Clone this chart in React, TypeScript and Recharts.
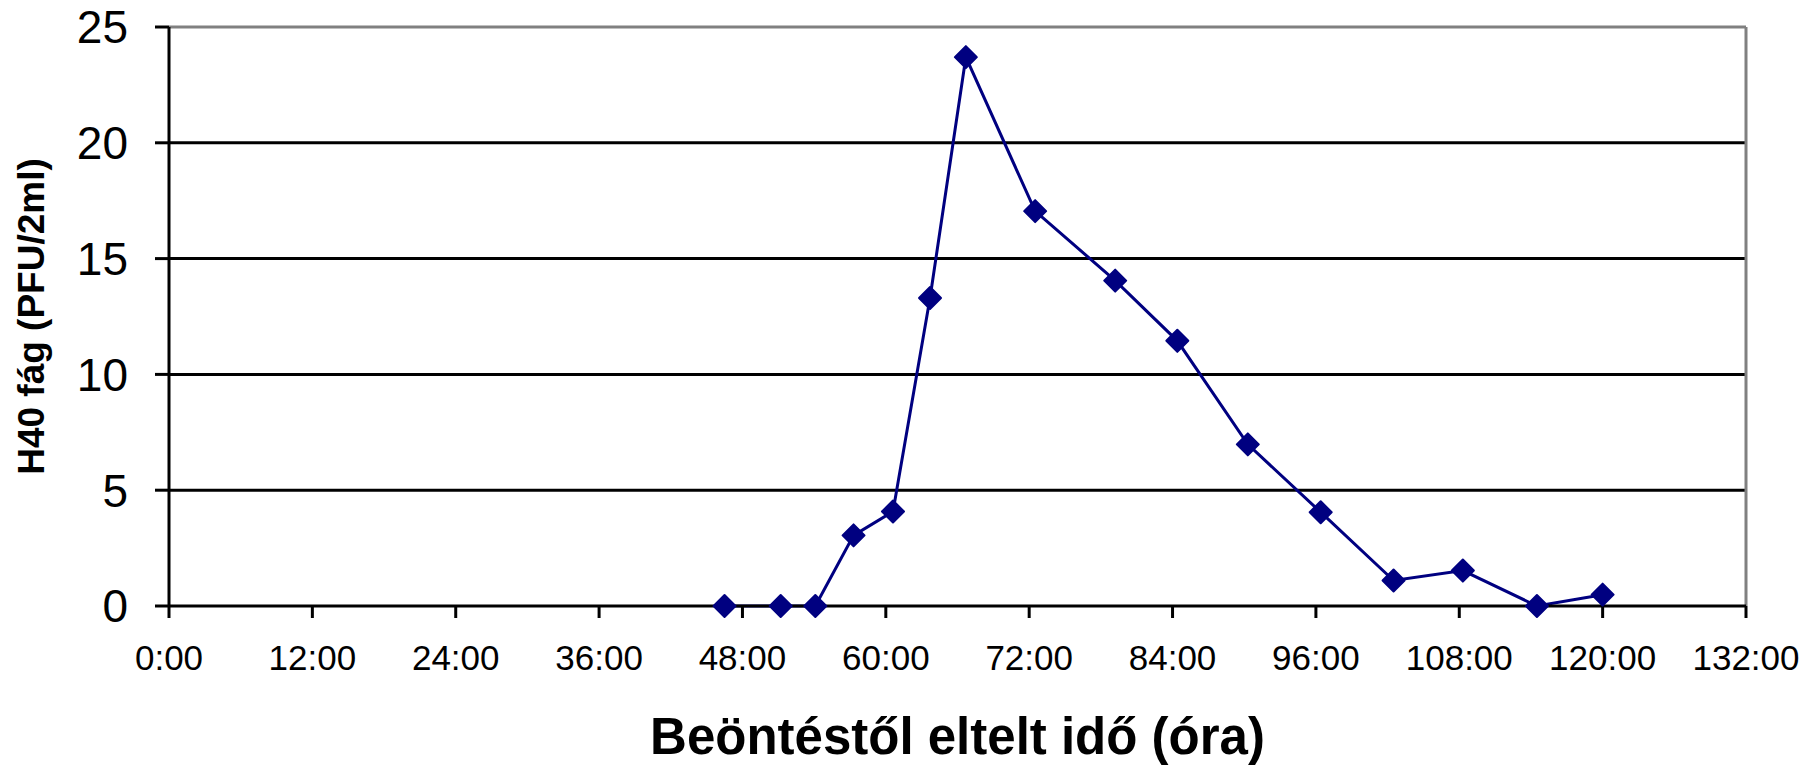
import { Label, Line, LineChart, ReferenceLine, XAxis, YAxis } from "recharts";

const hours = [46.5, 51.2, 54.1, 57.3, 60.6, 63.7, 66.7, 72.5, 79.2, 84.4, 90.3, 96.4, 102.5, 108.3, 114.5, 120];
const pfu = [0, 0, 0, 3.05, 4.08, 13.3, 23.7, 17.05, 14.05, 11.45, 6.98, 4.05, 1.1, 1.53, 0, 0.49];
const xTicks = [0, 12, 24, 36, 48, 60, 72, 84, 96, 108, 120, 132];
const yTicks = [0, 5, 10, 15, 20, 25];
const gridValues = [5, 10, 15, 20];

const xTitle = "Beöntéstől eltelt idő (óra)";
const yTitle = "H40 fág (PFU/2ml)";

const data = hours.map((h, i) => ({ h, v: pfu[i] }));

const font = "'Liberation Sans', Arial, sans-serif";
const navy = "#000080";

function Diamond(props: any) {
  const { cx, cy, index } = props;
  if (cx == null || cy == null) return null;
  const r = 11;
  return (
    <path
      key={index}
      d={`M${cx},${cy - r}L${cx + r},${cy}L${cx},${cy + r}L${cx - r},${cy}Z`}
      fill={navy}
      stroke={navy}
      strokeWidth={2}
      strokeLinejoin="round"
    />
  );
}

export default function App() {
  return (
    <div style={{ position: "absolute", left: 0, top: 0, background: "#fff" }}>
      <LineChart width={1818} height={766} data={data} margin={{ top: 27, right: 72, left: 69, bottom: 0 }}>
        {gridValues.map((v) => (
          <ReferenceLine key={v} y={v} stroke="#000" strokeWidth={3} />
        ))}
        <ReferenceLine y={25} stroke="#808080" strokeWidth={3} />
        <ReferenceLine x={132} stroke="#808080" strokeWidth={3} />
        <XAxis
          dataKey="h"
          type="number"
          domain={[0, 132]}
          ticks={xTicks}
          interval={0}
          tickFormatter={(h) => `${h}:00`}
          height={160}
          tickSize={12}
          tickMargin={27}
          axisLine={{ stroke: "#000", strokeWidth: 3 }}
          tickLine={{ stroke: "#000", strokeWidth: 3 }}
          tick={{ fill: "#000", fontSize: 35, fontFamily: font }}
        >
          <Label
            content={({ viewBox }: any) => (
              <text
                x={viewBox.x + viewBox.width / 2}
                y={viewBox.y + 148}
                textAnchor="middle"
                fontFamily={font}
                fontWeight="bold"
                fontSize={51}
                fill="#000"
              >
                {xTitle}
              </text>
            )}
          />
        </XAxis>
        <YAxis
          type="number"
          domain={[0, 25]}
          ticks={yTicks}
          interval={0}
          width={100}
          tickSize={14}
          tickMargin={27}
          axisLine={{ stroke: "#000", strokeWidth: 3 }}
          tickLine={{ stroke: "#000", strokeWidth: 3 }}
          tick={{ fill: "#000", fontSize: 46, fontFamily: font }}
        >
          <Label
            content={({ viewBox }: any) => {
              const x = viewBox.x - 25;
              const y = viewBox.y + viewBox.height / 2;
              return (
                <text
                  x={x}
                  y={y}
                  transform={`rotate(-90, ${x}, ${y})`}
                  textAnchor="middle"
                  fontFamily={font}
                  fontWeight="bold"
                  fontSize={37}
                  fill="#000"
                >
                  {yTitle}
                </text>
              );
            }}
          />
        </YAxis>
        <Line
          type="linear"
          dataKey="v"
          stroke={navy}
          strokeWidth={3}
          dot={Diamond}
          activeDot={false}
          isAnimationActive={false}
        />
      </LineChart>
    </div>
  );
}
